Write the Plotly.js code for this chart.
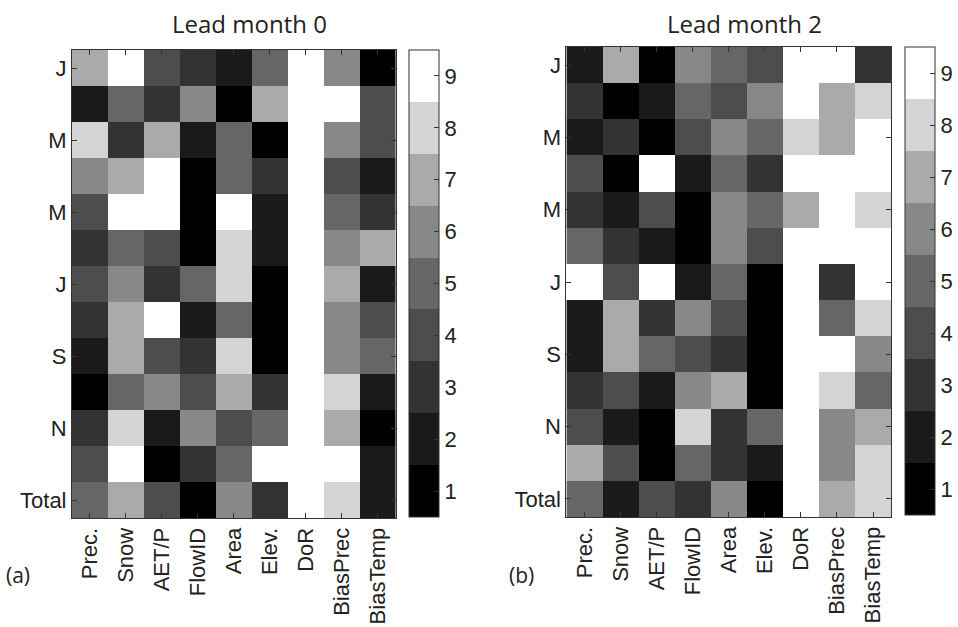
<!DOCTYPE html>
<html>
<head>
<meta charset="utf-8">
<script src="https://cdn.plot.ly/plotly-3.0.1.min.js"></script>
<style>html,body{margin:0;padding:0;background:#fff}#chart{width:958px;height:627px}</style>
</head>
<body>
<div id="chart"></div>
<script>
// Row categories (months + total), top to bottom
var rows = ['Jan','Feb','Mar','Apr','May','Jun','Jul','Aug','Sep','Oct','Nov','Dec','Total'];
var rowTickText = ['J','M','M','J','S','N','Total'];
var rowTickIdx = [0,2,4,6,8,10,12];
// Predictor columns
var variables = ['Prec.','Snow','AET/P','FlowID','Area','Elev.','DoR','BiasPrec','BiasTemp'];
// Colour-bar levels
var levels = [1,2,3,4,5,6,7,8,9];
var greys = ['#000000','#1a1a1a','#333333','#4d4d4d','#666666','#888888','#aaaaaa','#d4d4d4','#ffffff'];

// Lead month 0 (rows: Jan..Dec, Total; columns: variables)
var lead0 = [
  [7,9,4,3,2,5,9,6,1],
  [2,5,3,6,1,7,9,9,4],
  [8,3,7,2,5,1,9,6,4],
  [6,7,9,1,5,3,9,4,2],
  [4,9,9,1,9,2,9,5,3],
  [3,5,4,1,8,2,9,6,7],
  [4,6,3,5,8,1,9,7,2],
  [3,7,9,2,5,1,9,6,4],
  [2,7,4,3,8,1,9,6,5],
  [1,5,6,4,7,3,9,8,2],
  [3,8,2,6,4,5,9,7,1],
  [4,9,1,3,5,9,9,9,2],
  [5,7,4,1,6,3,9,8,2]
];
// Lead month 2
var lead2 = [
  [2,7,1,6,5,4,9,9,3],
  [3,1,2,5,4,6,9,7,8],
  [2,3,1,4,6,5,8,7,9],
  [4,1,9,2,5,3,9,9,9],
  [3,2,4,1,6,5,7,9,8],
  [5,3,2,1,6,4,9,9,9],
  [9,4,9,2,5,1,9,3,9],
  [2,7,3,6,4,1,9,5,8],
  [2,7,5,4,3,1,9,9,6],
  [3,4,2,6,7,1,9,8,5],
  [4,2,1,8,3,5,9,6,7],
  [7,4,1,5,3,2,9,6,8],
  [5,2,4,3,6,1,9,7,8]
];

// Discrete grey colour scale built from the levels
var zmin = levels[0] - 0.5, zmax = levels[levels.length-1] + 0.5;
var cs = [];
for (var i = 0; i < greys.length; i++) {
  cs.push([i/greys.length, greys[i]]);
  cs.push([(i+1)/greys.length, greys[i]]);
}

var W = 958, H = 627;
var tickFont = {family:'Liberation Sans, Arial, sans-serif', size:22, color:'#222'};
var xIdx = variables.map(function(_, i){ return i; });
var yIdx = rows.map(function(_, i){ return i; });

function cb(xpx, toppx, botpx) {
  return {
    x: xpx/W, xanchor:'left', xref:'paper',
    y: 1 - toppx/H, yanchor:'top', yref:'paper',
    len: (botpx - toppx)/H, lenmode:'fraction',
    thickness: 30, thicknessmode:'pixels',
    xpad:0, ypad:0,
    outlinewidth:1, outlinecolor:'#333',
    tickvals: levels, ticktext: levels.map(String),
    ticks:'inside', ticklen:5, tickcolor:'#333',
    tickfont: tickFont
  };
}

var traces = [
  {type:'heatmap', x:xIdx, y:yIdx, z:lead0, xaxis:'x', yaxis:'y',
   colorscale:cs, zmin:zmin, zmax:zmax, colorbar:cb(409,50,517), hoverinfo:'z'},
  {type:'heatmap', x:xIdx, y:yIdx, z:lead2, xaxis:'x2', yaxis:'y2',
   colorscale:cs, zmin:zmin, zmax:zmax, colorbar:cb(905,47,515), hoverinfo:'z'}
];

function xax(l, r, anchor) {
  return {domain:[l/W, r/W], anchor:anchor, range:[-0.5, variables.length-0.5],
    tickvals:xIdx, ticktext:variables, tickangle:-90, tickfont:tickFont,
    ticks:'inside', ticklen:5, tickcolor:'#333',
    showline:true, linecolor:'#333', linewidth:1, mirror:'ticks',
    showgrid:false, zeroline:false, fixedrange:true};
}
function yax(t, b, anchor) {
  return {domain:[1 - b/H, 1 - t/H], anchor:anchor, range:[rows.length-0.5, -0.5],
    tickvals:rowTickIdx, ticktext:rowTickText, tickfont:tickFont,
    ticks:'inside', ticklen:5, tickcolor:'#333',
    showline:true, linecolor:'#333', linewidth:1, mirror:'ticks',
    showgrid:false, zeroline:false, fixedrange:true};
}

var titleFont = {family:'Open Sans, sans-serif', size:24, color:'#222'};
var labFont = {family:'Open Sans, sans-serif', size:21, color:'#222'};

var layout = {
  width:W, height:H,
  margin:{l:0, r:0, t:0, b:0},
  paper_bgcolor:'#fff', plot_bgcolor:'#fff',
  showlegend:false,
  xaxis: xax(72, 396, 'y'),
  yaxis: yax(50, 518, 'x'),
  xaxis2: xax(567, 892, 'y2'),
  yaxis2: yax(47, 517, 'x2'),
  annotations:[
    {text:'Lead month 0', x:250/W, y:1-24/H, xref:'paper', yref:'paper', xanchor:'center', yanchor:'middle', showarrow:false, font:titleFont},
    {text:'Lead month 2', x:745/W, y:1-24/H, xref:'paper', yref:'paper', xanchor:'center', yanchor:'middle', showarrow:false, font:titleFont},
    {text:'(a)', x:18/W, y:1-575/H, xref:'paper', yref:'paper', xanchor:'center', yanchor:'middle', showarrow:false, font:labFont},
    {text:'(b)', x:522/W, y:1-575/H, xref:'paper', yref:'paper', xanchor:'center', yanchor:'middle', showarrow:false, font:labFont}
  ]
};

Plotly.newPlot('chart', traces, layout, {displayModeBar:false, staticPlot:true});
</script>
</body>
</html>
